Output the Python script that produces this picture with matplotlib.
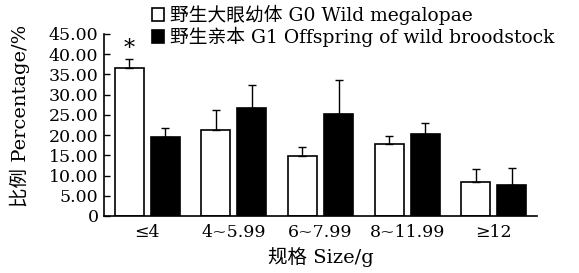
import numpy as np
import matplotlib
matplotlib.use('Agg')
import matplotlib.pyplot as plt

plt.rcParams['font.family'] = ['DejaVu Serif', 'Noto Sans CJK SC']

# data
categories = ['≤4', '4~5.99', '6~7.99', '8~11.99', '≥12']
g0 = [36.5, 21.2, 14.8, 17.9, 8.3]
g0_err = [2.3, 5.1, 2.2, 1.8, 3.3]
g1 = [19.5, 26.7, 25.2, 20.3, 7.6]
g1_err = [2.2, 5.6, 8.5, 2.7, 4.2]
labels = ['野生大眼幼体 G0 Wild megalopae', '野生亲本 G1 Offspring of wild broodstock']
yticks = [0, 5, 10, 15, 20, 25, 30, 35, 40, 45]

fig = plt.figure(figsize=(5.79, 2.73), dpi=100)
ax = fig.add_axes([104/579, 1 - 216/273, 433/579, 182/273])

x = np.arange(len(categories))
w = 0.335
off = 0.208

b0 = ax.bar(x - off, g0, width=w, color='white', edgecolor='black', linewidth=1.2, label=labels[0])
b1 = ax.bar(x + off, g1, width=w, color='black', edgecolor='black', linewidth=1.2, label=labels[1])
ax.errorbar(x - off, g0, yerr=[np.zeros(len(g0)), g0_err], fmt='none', ecolor='black',
            elinewidth=1, capsize=3, capthick=1)
ax.errorbar(x + off, g1, yerr=[np.zeros(len(g1)), g1_err], fmt='none', ecolor='black',
            elinewidth=1, capsize=3, capthick=1)

# significance mark
ax.text(x[0] - off, g0[0] + g0_err[0] - 0.2, '*', ha='center', va='bottom', fontsize=16)

ax.set_xlim(-0.5, 4.5)
ax.set_ylim(0, 45)
ax.set_yticks(yticks)
ax.set_yticklabels(['0'] + ['%.2f' % v for v in yticks[1:]])
ax.set_xticks(x)
ax.set_xticklabels(categories)
ax.tick_params(axis='y', direction='in', length=4, width=1, pad=4, labelsize=12.5)
ax.tick_params(axis='x', length=0, pad=6, labelsize=12.5)
ax.spines['top'].set_visible(False)
ax.spines['right'].set_visible(False)
ax.spines['left'].set_linewidth(1.2)
ax.spines['bottom'].set_linewidth(1.2)

ax.set_xlabel('规格 Size/g', fontsize=14, labelpad=4)
ax.set_ylabel('比例 Percentage/%', fontsize=14)
ax.yaxis.set_label_coords(-0.172, 0.55)

ax.legend(handles=[b0, b1], loc='upper left', bbox_to_anchor=(152/579, 1 - 5/273),
          bbox_transform=fig.transFigure, frameon=False, fontsize=13.5,
          handlelength=0.65, handleheight=0.65, handletextpad=0.3,
          labelspacing=0.1, borderpad=0, borderaxespad=0)

fig.savefig('out.png', dpi=100)
